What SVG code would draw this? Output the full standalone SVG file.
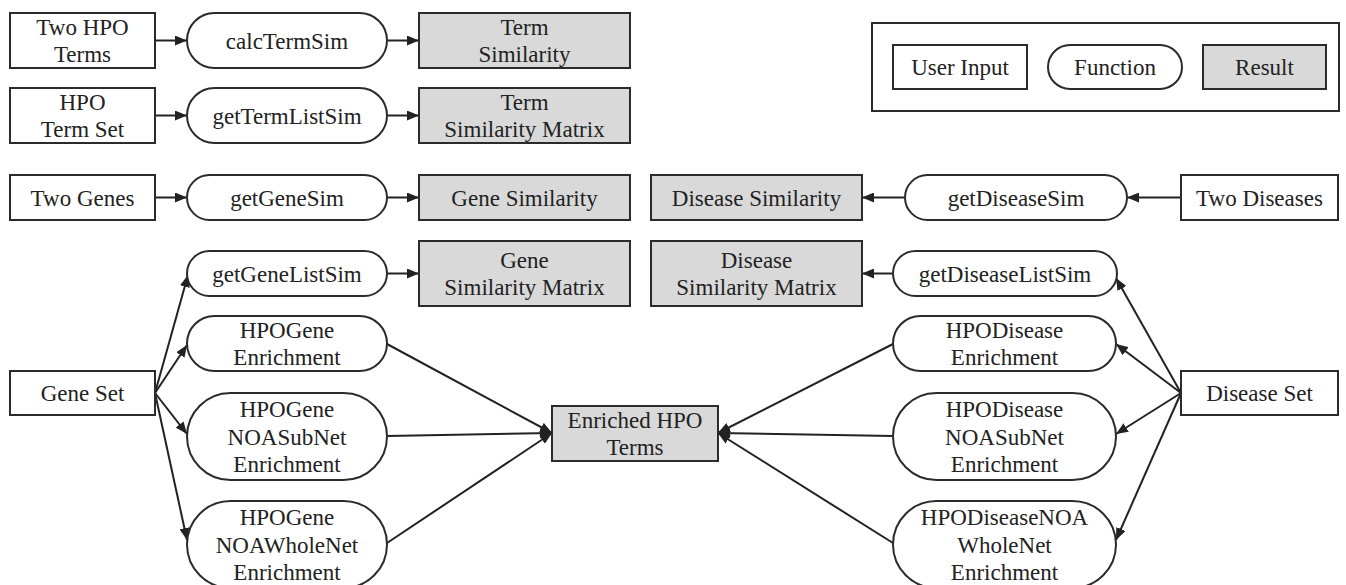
<svg xmlns="http://www.w3.org/2000/svg" width="1346" height="585" viewBox="0 0 1346 585">
  <defs>
    <marker id="arrow" markerUnits="userSpaceOnUse" markerWidth="12" markerHeight="10" refX="12" refY="5" orient="auto">
      <path d="M0,0 L12,5 L0,10 z" fill="#222"/>
    </marker>
    <style>
      .input { fill: #fff; stroke: #2b2b2b; stroke-width: 2; }
      .func { fill: #fff; stroke: #2b2b2b; stroke-width: 2; }
      .result { fill: #d9d9d9; stroke: #2b2b2b; stroke-width: 2; }
      .frame { fill: none; stroke: #2b2b2b; stroke-width: 2; }
      text { font-family: "Liberation Serif", "Times New Roman", serif; font-size: 23px; fill: #222; text-anchor: middle; }
      .conn line { stroke: #222; stroke-width: 2; marker-end: url(#arrow); }
    </style>
  </defs>
  <rect width="1346" height="585" fill="#fff"/>

  <!-- connectors -->
  <g id="connectors" class="conn">
    <line x1="155" y1="40.5" x2="187" y2="40.5"/>
    <line x1="387" y1="40.5" x2="419" y2="40.5"/>
    <line x1="155" y1="115.5" x2="187" y2="115.5"/>
    <line x1="387" y1="115.5" x2="419" y2="115.5"/>
    <line x1="155" y1="197.5" x2="187" y2="197.5"/>
    <line x1="387" y1="197.5" x2="419" y2="197.5"/>
    <line x1="387" y1="273.5" x2="419" y2="273.5"/>
    <line x1="1181" y1="197.5" x2="1127" y2="197.5"/>
    <line x1="905" y1="197.5" x2="862" y2="197.5"/>
    <line x1="893" y1="273.5" x2="862" y2="273.5"/>
    <!-- gene set fan-out -->
    <line x1="155" y1="393" x2="188" y2="275"/>
    <line x1="155" y1="393" x2="187" y2="345"/>
    <line x1="155" y1="393" x2="187" y2="434"/>
    <line x1="155" y1="393" x2="187" y2="540"/>
    <!-- disease set fan-out -->
    <line x1="1181" y1="393" x2="1116" y2="278"/>
    <line x1="1181" y1="393" x2="1116" y2="344"/>
    <line x1="1181" y1="393" x2="1116" y2="434"/>
    <line x1="1181" y1="393" x2="1116" y2="540"/>
    <!-- enrichment results -->
    <line x1="387" y1="344" x2="552" y2="433"/>
    <line x1="387" y1="436" x2="552" y2="433"/>
    <line x1="387" y1="543" x2="552" y2="433"/>
    <line x1="893" y1="344" x2="718" y2="433"/>
    <line x1="893" y1="436" x2="718" y2="433"/>
    <line x1="893" y1="543" x2="718" y2="433"/>
  </g>

  <!-- term similarity -->
  <g id="two-hpo-terms">
    <rect class="input" x="10" y="13" width="145" height="55"/>
    <text x="82.5" y="35">Two HPO</text>
    <text x="82.5" y="62">Terms</text>
  </g>
  <g id="calcTermSim">
    <rect class="func" x="187" y="13" width="200" height="55" rx="27.5"/>
    <text x="287" y="48.5">calcTermSim</text>
  </g>
  <g id="term-similarity">
    <rect class="result" x="419" y="13" width="211" height="55"/>
    <text x="524.5" y="35">Term</text>
    <text x="524.5" y="62">Similarity</text>
  </g>

  <g id="hpo-term-set">
    <rect class="input" x="10" y="88" width="145" height="55"/>
    <text x="82.5" y="110">HPO</text>
    <text x="82.5" y="137">Term Set</text>
  </g>
  <g id="getTermListSim">
    <rect class="func" x="187" y="88" width="200" height="55" rx="27.5"/>
    <text x="287" y="123.5">getTermListSim</text>
  </g>
  <g id="term-similarity-matrix">
    <rect class="result" x="419" y="88" width="211" height="55"/>
    <text x="524.5" y="110">Term</text>
    <text x="524.5" y="137">Similarity Matrix</text>
  </g>

  <!-- gene similarity -->
  <g id="two-genes">
    <rect class="input" x="10" y="175" width="145" height="45"/>
    <text x="82.5" y="205.5">Two Genes</text>
  </g>
  <g id="getGeneSim">
    <rect class="func" x="187" y="175" width="200" height="45" rx="22.5"/>
    <text x="287" y="205.5">getGeneSim</text>
  </g>
  <g id="gene-similarity">
    <rect class="result" x="419" y="175" width="211" height="45"/>
    <text x="524.5" y="205.5">Gene Similarity</text>
  </g>
  <g id="getGeneListSim">
    <rect class="func" x="187" y="251" width="200" height="45" rx="22.5"/>
    <text x="287" y="281.5">getGeneListSim</text>
  </g>
  <g id="gene-similarity-matrix">
    <rect class="result" x="419" y="241" width="211" height="65"/>
    <text x="524.5" y="268">Gene</text>
    <text x="524.5" y="295">Similarity Matrix</text>
  </g>

  <!-- disease similarity -->
  <g id="disease-similarity">
    <rect class="result" x="651" y="175" width="211" height="45"/>
    <text x="756.5" y="205.5">Disease Similarity</text>
  </g>
  <g id="getDiseaseSim">
    <rect class="func" x="905" y="175" width="222" height="45" rx="22.5"/>
    <text x="1016" y="205.5">getDiseaseSim</text>
  </g>
  <g id="two-diseases">
    <rect class="input" x="1181" y="175" width="157" height="45"/>
    <text x="1259.5" y="205.5">Two Diseases</text>
  </g>
  <g id="disease-similarity-matrix">
    <rect class="result" x="651" y="241" width="211" height="65"/>
    <text x="756.5" y="268">Disease</text>
    <text x="756.5" y="295">Similarity Matrix</text>
  </g>
  <g id="getDiseaseListSim">
    <rect class="func" x="893" y="251" width="224" height="45" rx="22.5"/>
    <text x="1005" y="281.5">getDiseaseListSim</text>
  </g>

  <!-- gene set enrichment -->
  <g id="gene-set">
    <rect class="input" x="10" y="371" width="145" height="44"/>
    <text x="82.5" y="401">Gene Set</text>
  </g>
  <g id="HPOGeneEnrichment">
    <rect class="func" x="187" y="316" width="200" height="55" rx="27.5"/>
    <text x="287" y="338">HPOGene</text>
    <text x="287" y="365">Enrichment</text>
  </g>
  <g id="HPOGeneNOASubNetEnrichment">
    <rect class="func" x="187" y="393" width="200" height="87" rx="43.5"/>
    <text x="287" y="417">HPOGene</text>
    <text x="287" y="444.5">NOASubNet</text>
    <text x="287" y="472">Enrichment</text>
  </g>
  <g id="HPOGeneNOAWholeNetEnrichment">
    <rect class="func" x="187" y="501" width="200" height="87" rx="43.5"/>
    <text x="287" y="525">HPOGene</text>
    <text x="287" y="552.5">NOAWholeNet</text>
    <text x="287" y="580">Enrichment</text>
  </g>

  <g id="enriched-hpo-terms">
    <rect class="result" x="552" y="406" width="166" height="55"/>
    <text x="635" y="428">Enriched HPO</text>
    <text x="635" y="455">Terms</text>
  </g>

  <!-- disease set enrichment -->
  <g id="HPODiseaseEnrichment">
    <rect class="func" x="893" y="316" width="223" height="55" rx="27.5"/>
    <text x="1004.5" y="338">HPODisease</text>
    <text x="1004.5" y="365">Enrichment</text>
  </g>
  <g id="HPODiseaseNOASubNetEnrichment">
    <rect class="func" x="893" y="393" width="223" height="87" rx="43.5"/>
    <text x="1004.5" y="417">HPODisease</text>
    <text x="1004.5" y="444.5">NOASubNet</text>
    <text x="1004.5" y="472">Enrichment</text>
  </g>
  <g id="HPODiseaseNOAWholeNetEnrichment">
    <rect class="func" x="893" y="501" width="223" height="87" rx="43.5"/>
    <text x="1004.5" y="525">HPODiseaseNOA</text>
    <text x="1004.5" y="552.5">WholeNet</text>
    <text x="1004.5" y="580">Enrichment</text>
  </g>
  <g id="disease-set">
    <rect class="input" x="1181" y="371" width="157" height="44"/>
    <text x="1259.5" y="401">Disease Set</text>
  </g>

  <!-- legend -->
  <g id="legend">
    <rect class="frame" x="872" y="23" width="467" height="88"/>
    <rect class="input" x="893" y="45" width="134" height="44"/>
    <text x="960" y="75">User Input</text>
    <rect class="func" x="1048" y="45" width="134" height="44" rx="22"/>
    <text x="1115" y="75">Function</text>
    <rect class="result" x="1203" y="45" width="123" height="44"/>
    <text x="1264.5" y="75">Result</text>
  </g>
</svg>
